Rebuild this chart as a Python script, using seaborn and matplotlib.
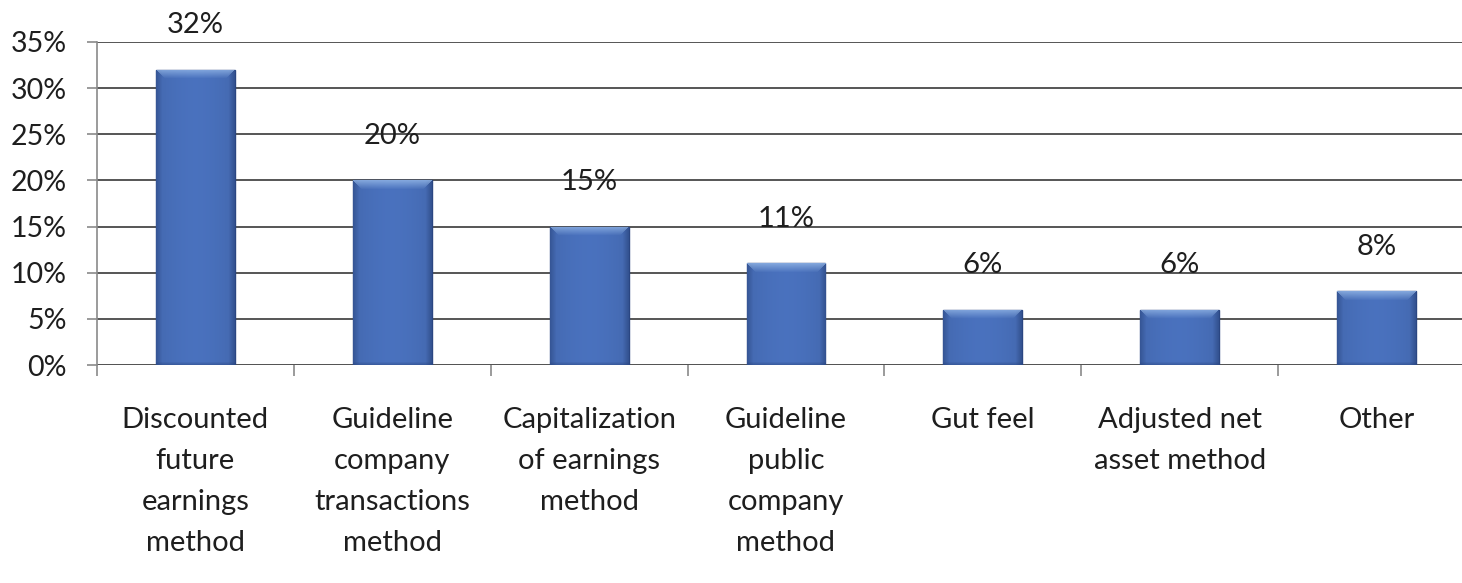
import numpy as np
import pandas as pd
import matplotlib
matplotlib.use("Agg")
import matplotlib.pyplot as plt
import seaborn as sns

# Valuation methods and share of respondents using each
categories = [
    "Discounted\nfuture\nearnings\nmethod",
    "Guideline\ncompany\ntransactions\nmethod",
    "Capitalization\nof earnings\nmethod",
    "Guideline\npublic\ncompany\nmethod",
    "Gut feel",
    "Adjusted net\nasset method",
    "Other",
]
shares = [32, 20, 15, 11, 6, 6, 8]
value_labels = ["32%", "20%", "15%", "11%", "6%", "6%", "8%"]
y_ticks = [0, 5, 10, 15, 20, 25, 30, 35]
y_tick_labels = ["0%", "5%", "10%", "15%", "20%", "25%", "30%", "35%"]

sns.set_theme(style="white")
plt.rcParams["font.family"] = ["Lato", "DejaVu Sans"]

df = pd.DataFrame({"method": categories, "share": shares})

W, H, DPI = 1462, 583, 100
fig = plt.figure(figsize=(W / DPI, H / DPI), dpi=DPI)
ax = fig.add_axes([97 / W, 218 / H, (1475 - 97) / W, (365 - 42) / H])

sns.barplot(data=df, x="method", y="share", color="#4469b0", width=0.4,
            saturation=1, edgecolor="#2a4682", linewidth=1.0, ax=ax, zorder=3)

ax.set_xlim(-0.5, len(categories) - 0.5)
ax.set_ylim(0, 35)
ax.set_xlabel("")
ax.set_ylabel("")

# bevelled shading on each bar
px_per_unit = (365 - 42) / 35.0
base = np.array([68, 105, 176]) / 255.0
light = np.array([150, 185, 232]) / 255.0
dark = np.array([38, 64, 120]) / 255.0
for p in list(ax.patches):
    x0, y0, w, h = p.get_x(), p.get_y(), p.get_width(), p.get_height()
    ny = max(int(round(h * px_per_unit)), 4)
    nx = 78
    img = np.tile(base, (ny, nx, 1)).astype(float)
    xs = np.linspace(0, 1, nx)
    # soft horizontal shading: lighter in the middle
    shade = 1.0 + 0.08 * np.cos((xs - 0.5) * np.pi)
    img *= shade[None, :, None]
    side = 6
    for i in range(side):
        t = (side - i) / side
        img[:, i] = img[:, i] * (1 - 0.45 * t) + dark * 0.45 * t
        img[:, nx - 1 - i] = img[:, nx - 1 - i] * (1 - 0.55 * t) + dark * 0.55 * t
    top = min(9, ny // 2)
    for j in range(top):
        t = (top - j) / top
        lo, hi = j, nx - j
        img[j, lo:hi] = img[j, lo:hi] * (1 - 0.75 * t) + light * 0.75 * t
    bot = min(3, ny // 4)
    for j in range(bot):
        t = (bot - j) / bot
        img[ny - 1 - j] = img[ny - 1 - j] * (1 - 0.4 * t) + dark * 0.4 * t
    img = np.clip(img, 0, 1)
    im = ax.imshow(img, extent=(x0, x0 + w, y0, y0 + h), aspect="auto",
                   origin="upper", zorder=3.5, interpolation="bilinear")
    im.set_clip_path(p)

ax.set_xlim(-0.5, len(categories) - 0.5)
ax.set_ylim(0, 35)

# value labels above each bar
for i, (v, lab) in enumerate(zip(shares, value_labels)):
    ax.annotate(lab, xy=(i, v), xytext=(0, 32), textcoords="offset points",
                ha="center", va="center", fontsize=21, color="#1e1e1e",
                zorder=5, annotation_clip=False)

# grid and axes styling
ax.set_yticks(y_ticks)
ax.set_yticklabels(y_tick_labels)
ax.yaxis.grid(True, color="#555555", linewidth=1.4, zorder=0)
ax.set_axisbelow(True)
for s in ["top", "right", "bottom"]:
    ax.spines[s].set_visible(False)
ax.spines["left"].set_color("#8a8a8a")
ax.spines["left"].set_linewidth(1.2)
ax.axhline(0, color="#555555", linewidth=1.4, zorder=2)

ax.tick_params(axis="y", which="major", direction="out", length=7, width=1.2,
               color="#8a8a8a", pad=15, labelsize=20.5, labelcolor="#1e1e1e", left=True)
ax.tick_params(axis="x", which="major", length=0, pad=30, labelsize=21,
               labelcolor="#1e1e1e")
ax.set_xticks(range(len(categories)))
ax.set_xticklabels(categories, linespacing=1.72)
ax.set_xticks(np.arange(-0.5, len(categories), 1.0), minor=True)
ax.tick_params(axis="x", which="minor", direction="out", length=8, width=1.2,
               color="#8a8a8a", bottom=True)

fig.savefig("out.png", dpi=DPI, facecolor="white")
